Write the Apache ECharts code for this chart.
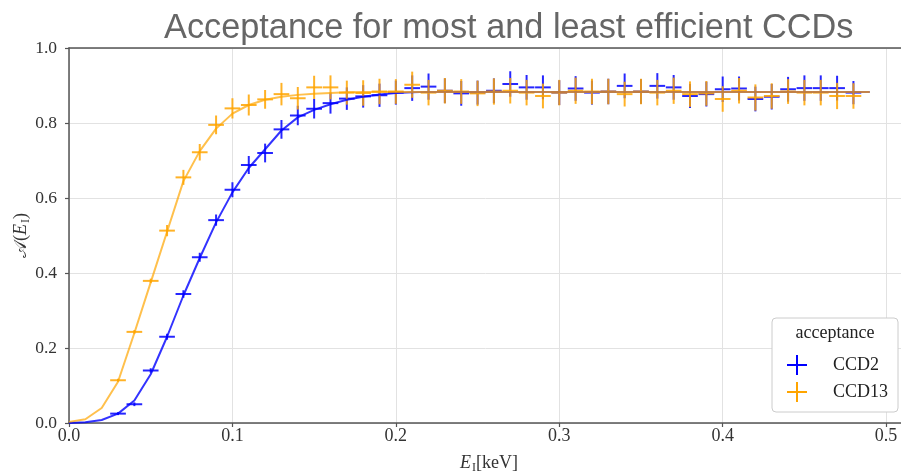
<!DOCTYPE html>
<html><head><meta charset="utf-8">
<script src="https://cdn.jsdelivr.net/npm/echarts@6/dist/echarts.min.js"></script>
<style>html,body{margin:0;padding:0;background:#fff}#c{width:901px;height:475px}</style>
</head><body><div id="c"></div>
<script>
// bin centres (keV)
const binEnergy = [0.03,0.04,0.05,0.06,0.07,0.08,0.09,0.10,0.11,0.12,0.13,0.14,0.15,0.16,0.17,0.18,0.19,0.20,0.21,0.22,0.23,0.24,0.25,0.26,0.27,0.28,0.29,0.30,0.31,0.32,0.33,0.34,0.35,0.36,0.37,0.38,0.39,0.40,0.41,0.42,0.43,0.44,0.45,0.46,0.47,0.48];
// CCD2 measured acceptance and errors
const ccd2Acc = [0.025,0.05,0.14,0.23,0.344,0.442,0.541,0.622,0.688,0.72,0.783,0.82,0.838,0.853,0.865,0.871,0.874,0.881,0.893,0.897,0.886,0.879,0.881,0.886,0.904,0.895,0.895,0.881,0.892,0.881,0.884,0.899,0.884,0.899,0.895,0.872,0.877,0.890,0.892,0.864,0.870,0.890,0.893,0.893,0.893,0.881];
const ccd2Err = [0.004,0.005,0.006,0.008,0.010,0.012,0.015,0.020,0.024,0.025,0.025,0.026,0.026,0.028,0.030,0.030,0.031,0.032,0.034,0.035,0.033,0.033,0.032,0.033,0.034,0.033,0.032,0.033,0.033,0.032,0.034,0.033,0.033,0.034,0.033,0.032,0.033,0.034,0.032,0.033,0.034,0.033,0.034,0.034,0.033,0.031];
// CCD13 measured acceptance and errors
const ccd13Acc = [0.114,0.243,0.379,0.513,0.655,0.722,0.795,0.839,0.848,0.863,0.877,0.866,0.895,0.895,0.881,0.880,0.884,0.884,0.902,0.881,0.886,0.884,0.879,0.884,0.886,0.881,0.872,0.881,0.886,0.884,0.884,0.877,0.884,0.881,0.886,0.877,0.879,0.864,0.886,0.868,0.872,0.884,0.881,0.881,0.872,0.872];
const ccd13Err = [0.004,0.005,0.006,0.015,0.020,0.022,0.025,0.027,0.028,0.025,0.030,0.030,0.031,0.032,0.032,0.034,0.034,0.033,0.035,0.034,0.034,0.033,0.034,0.035,0.034,0.034,0.033,0.034,0.035,0.034,0.034,0.033,0.034,0.034,0.035,0.034,0.033,0.034,0.034,0.035,0.034,0.033,0.034,0.034,0.035,0.034];
// fitted acceptance curves
const curveEnergy = [0,0.01,0.02,0.03,0.04,0.05,0.06,0.07,0.08,0.09,0.10,0.11,0.12,0.13,0.14,0.15,0.16,0.17,0.18,0.19,0.20,0.21,0.22,0.23,0.24,0.25,0.26,0.27,0.28,0.29,0.30,0.31,0.32,0.33,0.34,0.35,0.36,0.37,0.38,0.39,0.40,0.41,0.42,0.43,0.44,0.45,0.46,0.47,0.48,0.49];
const ccd2Curve = [0,0.002,0.008,0.025,0.06,0.13,0.23,0.34,0.44,0.535,0.615,0.68,0.73,0.78,0.815,0.835,0.85,0.862,0.870,0.876,0.880,0.882,0.883,0.883,0.883,0.883,0.883,0.883,0.883,0.883,0.883,0.883,0.883,0.883,0.883,0.883,0.883,0.883,0.883,0.883,0.883,0.883,0.883,0.883,0.883,0.883,0.883,0.883,0.883,0.883];
const ccd13Curve = [0.003,0.01,0.04,0.11,0.24,0.375,0.51,0.645,0.725,0.785,0.825,0.848,0.862,0.870,0.875,0.878,0.880,0.882,0.883,0.883,0.883,0.883,0.883,0.883,0.883,0.883,0.883,0.883,0.883,0.883,0.883,0.883,0.883,0.883,0.883,0.883,0.883,0.883,0.883,0.883,0.883,0.883,0.883,0.883,0.883,0.883,0.883,0.883,0.883,0.883];
const binHalfWidth = 0.0048;

const BLUE = '#0000ff', ORANGE = '#ffa500';
const SERIF = '"Liberation Serif", "DejaVu Serif", serif';
const PLUS = 'path://M0,9 L20,9 L20,11 L0,11 Z M9,0 L11,0 L11,20 L9,20 Z';
const SPINE = {show: true, lineStyle: {color: '#555', width: 1.5}};

function errRender(color, opacity) {
  return function (params, api) {
    const x = api.value(0), y = api.value(1), e = api.value(2);
    const l = api.coord([x - binHalfWidth, y]), r = api.coord([x + binHalfWidth, y]);
    const t = api.coord([x, y + e]), b = api.coord([x, y - e]);
    const st = {stroke: color, lineWidth: 2, opacity: opacity};
    return {type: 'group', children: [
      {type: 'line', shape: {x1: l[0], y1: l[1], x2: r[0], y2: r[1]}, style: st},
      {type: 'line', shape: {x1: t[0], y1: t[1], x2: b[0], y2: b[1]}, style: st}
    ]};
  };
}

const chart = echarts.init(document.getElementById('c'), null, {renderer: 'canvas'});
chart.setOption({
  animation: false,
  backgroundColor: '#fff',
  title: {
    text: 'Acceptance for most and least efficient CCDs',
    left: 159, top: 7,
    textStyle: {fontFamily: '"Liberation Sans", Arial, sans-serif', fontSize: 34.3, fontWeight: 'normal', color: '#666'}
  },
  grid: {left: 69, top: 48, width: 840, height: 375, outerBoundsMode: 'none', containLabel: false, show: false},
  xAxis: [{
    type: 'value', min: 0, max: 0.514, interval: 0.1,
    axisLine: SPINE,
    axisTick: {show: true, length: 4, lineStyle: {color: '#555', width: 1.2}},
    splitLine: {show: true, lineStyle: {color: '#e2e2e2', width: 1}},
    axisLabel: {formatter: v => v.toFixed(1), showMaxLabel: false, fontFamily: SERIF, fontSize: 18, color: '#333', margin: 4},
    name: '{e|E}{s|I}{n|[keV]}', nameLocation: 'middle', nameGap: 30, nameMoveOverlap: false,
    nameTextStyle: {rich: {
      e: {fontFamily: SERIF, fontStyle: 'italic', fontSize: 18, color: '#333'},
      s: {fontFamily: SERIF, fontSize: 12, color: '#333', padding: [9, 0, 0, 1]},
      n: {fontFamily: SERIF, fontSize: 18, color: '#333'}
    }}
  }, {
    type: 'value', position: 'top', min: 0, max: 0.514,
    axisLine: SPINE, axisTick: {show: false}, axisLabel: {show: false}, splitLine: {show: false}
  }],
  yAxis: {
    type: 'value', min: 0, max: 1, interval: 0.2,
    axisLine: SPINE,
    axisTick: {show: true, length: 4, lineStyle: {color: '#555', width: 1.2}},
    splitLine: {show: true, lineStyle: {color: '#e2e2e2', width: 1}},
    axisLabel: {formatter: v => v.toFixed(1), fontFamily: SERIF, fontSize: 17.5, color: '#333', margin: 12},
    name: '{c|𝒜}{p|(}{e|E}{s|I}{p|)}', nameLocation: 'middle', nameGap: 37, nameRotate: 90, nameMoveOverlap: false,
    nameTextStyle: {rich: {
      c: {fontFamily: SERIF, fontSize: 18, color: '#333'},
      p: {fontFamily: SERIF, fontSize: 18, color: '#333'},
      e: {fontFamily: SERIF, fontStyle: 'italic', fontSize: 18, color: '#333'},
      s: {fontFamily: SERIF, fontSize: 12, color: '#333', padding: [9, 0, 0, 1]}
    }}
  },
  legend: {
    data: [{name: 'CCD2', icon: PLUS}, {name: 'CCD13', icon: PLUS}],
    orient: 'vertical', left: 772, top: 318,
    padding: [37, 10, 10, 15], itemWidth: 20, itemHeight: 20, itemGap: 7,
    backgroundColor: '#fff', borderColor: '#ccc', borderWidth: 1, borderRadius: 4,
    selectedMode: false,
    textStyle: {fontFamily: SERIF, fontSize: 18, color: '#222', padding: [0, 0, 0, 21]}
  },
  graphic: [{
    type: 'text', z: 100,
    style: {text: 'acceptance', x: 835, y: 333, align: 'center', verticalAlign: 'middle', font: '18px "Liberation Serif"', fill: '#222'}
  }],
  series: [
    {name: 'CCD2', type: 'custom', z: 2, color: BLUE, itemStyle: {color: BLUE},
     renderItem: errRender(BLUE, 0.85), encode: {x: 0, y: 1},
     data: binEnergy.map((x, i) => [x, ccd2Acc[i], ccd2Err[i]])},
    {name: 'CCD13', type: 'custom', z: 3, color: ORANGE, itemStyle: {color: ORANGE},
     renderItem: errRender(ORANGE, 0.85), encode: {x: 0, y: 1},
     data: binEnergy.map((x, i) => [x, ccd13Acc[i], ccd13Err[i]])},
    {name: 'CCD2 fit', type: 'line', z: 4, showSymbol: false, color: BLUE,
     lineStyle: {color: BLUE, width: 2, opacity: 0.8},
     data: curveEnergy.map((x, i) => [x, ccd2Curve[i]])},
    {name: 'CCD13 fit', type: 'line', z: 5, showSymbol: false, color: ORANGE,
     lineStyle: {color: ORANGE, width: 2, opacity: 0.7},
     data: curveEnergy.map((x, i) => [x, ccd13Curve[i]])}
  ]
});
</script></body></html>
